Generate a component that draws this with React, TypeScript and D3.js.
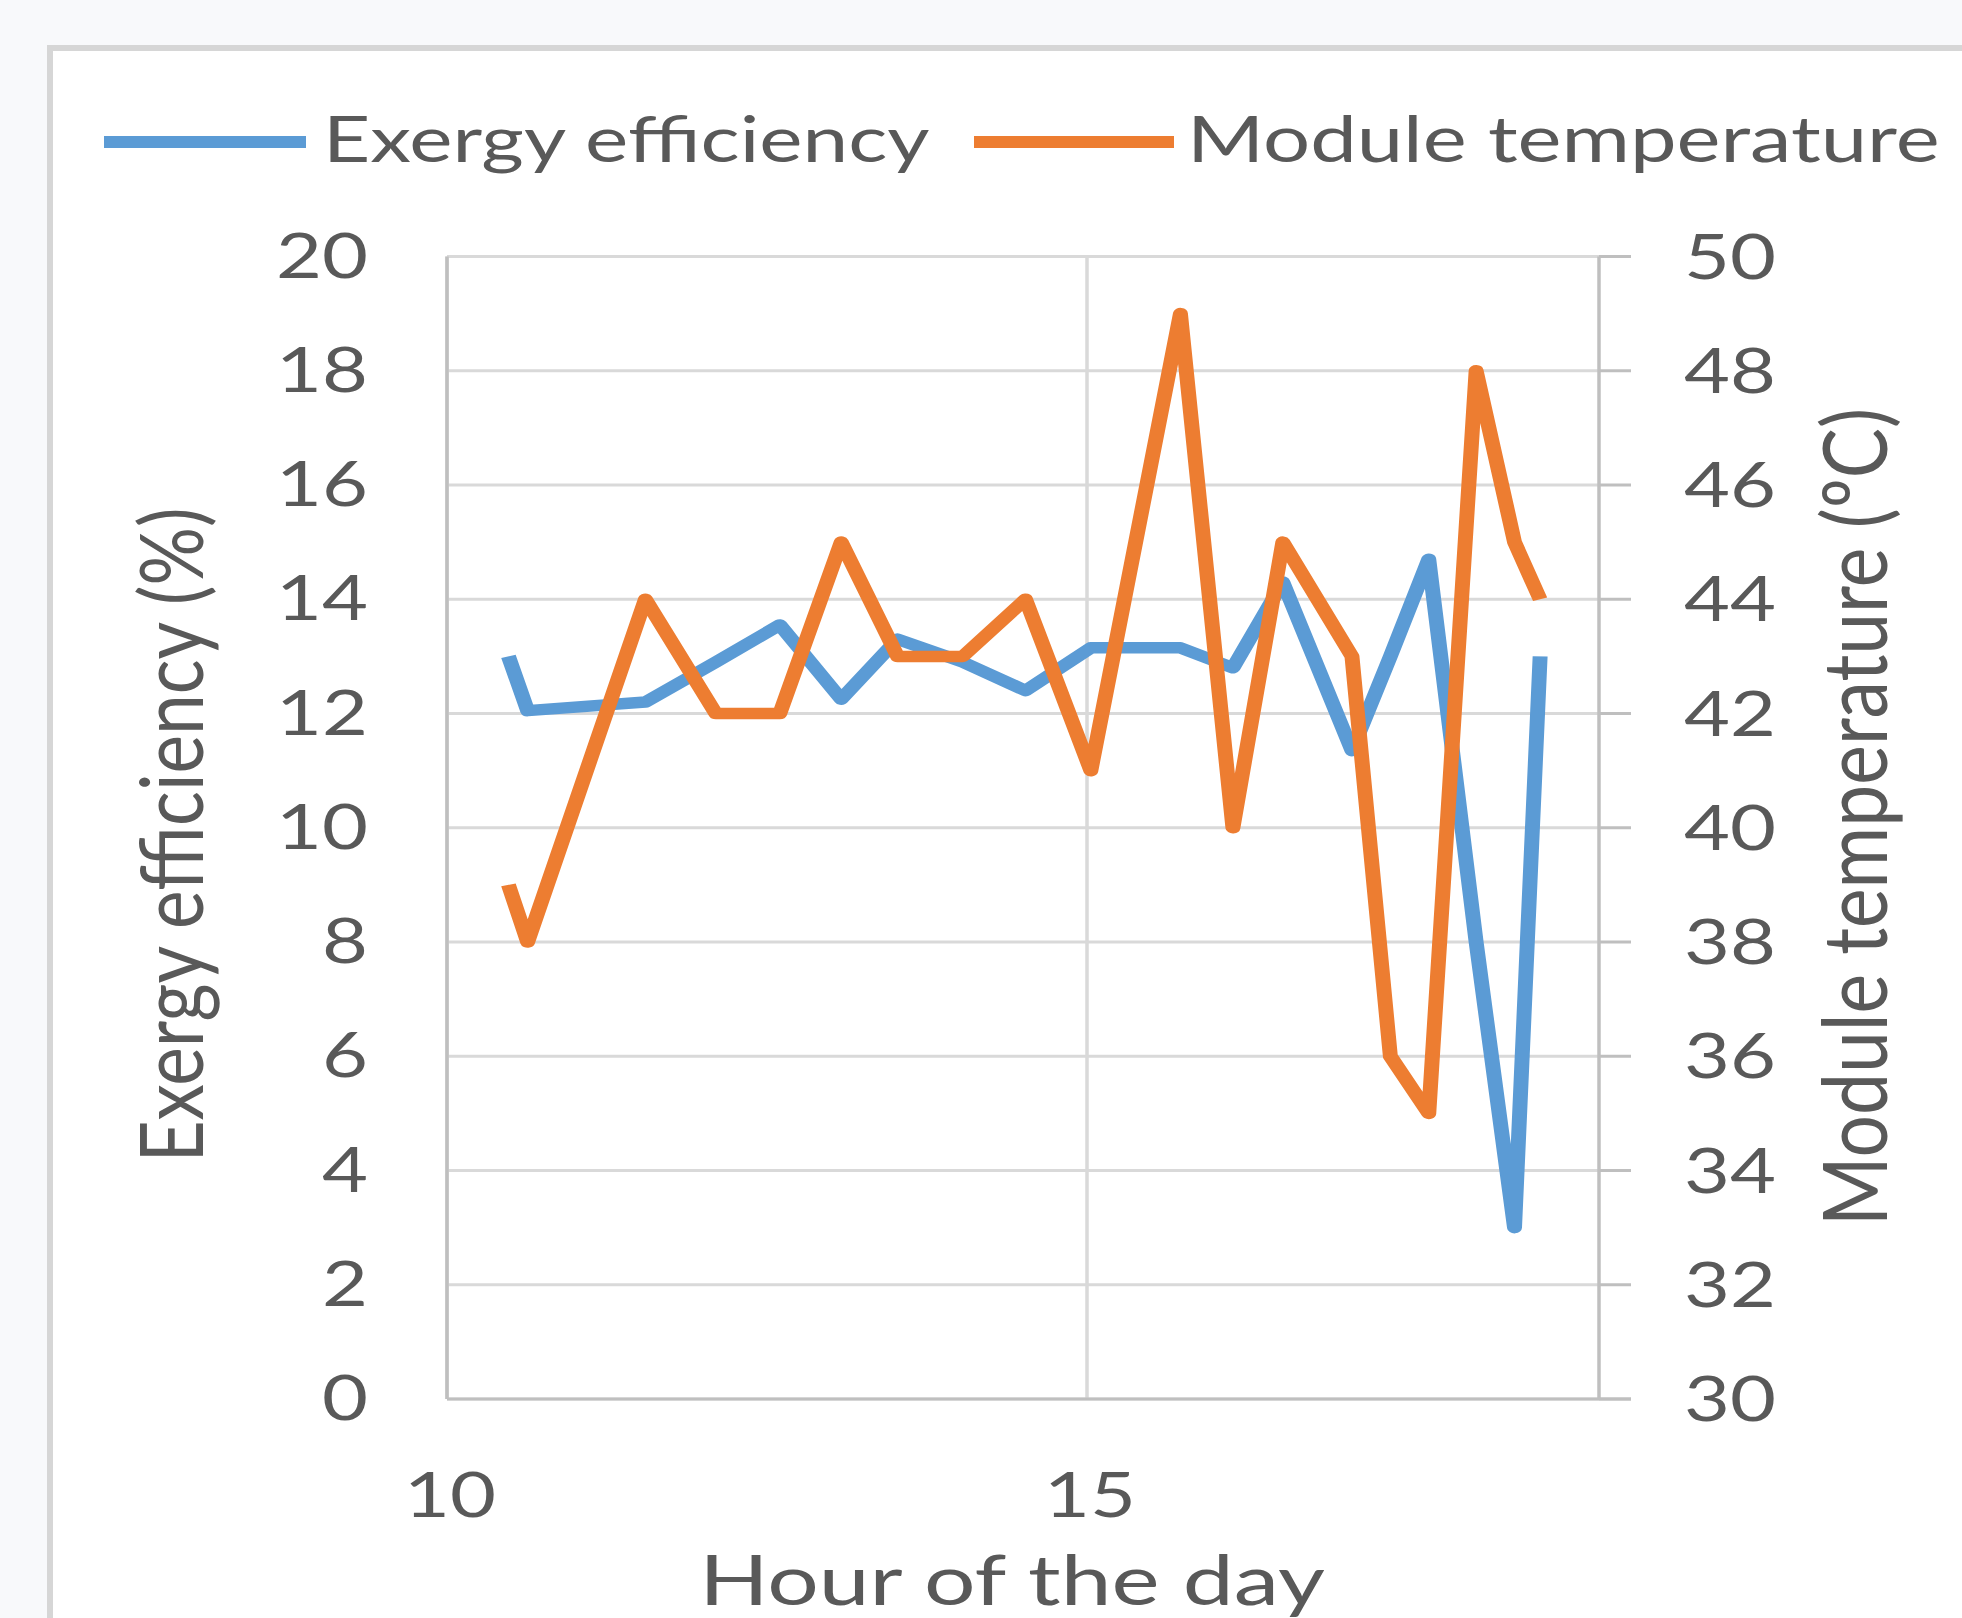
import React from "react";
import * as d3 from "d3";

const hours = [10.48, 10.63, 11.55, 12.1, 12.6, 13.08, 13.52, 14.03, 14.52, 15.03, 15.73, 16.14, 16.53, 17.07, 17.37, 17.67, 18.04, 18.34, 18.54];
const exergyEfficiency = [13.0, 12.05, 12.2, 12.9, 13.55, 12.25, 13.3, 12.9, 12.4, 13.15, 13.15, 12.8, 14.3, 11.35, 13.0, 14.7, 8.0, 3.0, 13.0];
const moduleTemperature = [39, 38, 44, 42, 42, 45, 43, 43, 44, 41, 49, 40, 45, 43, 36, 35, 48, 45, 44];

const xTicks = [10, 15];
const leftTicks = [0, 2, 4, 6, 8, 10, 12, 14, 16, 18, 20];
const rightTicks = [30, 32, 34, 36, 38, 40, 42, 44, 46, 48, 50];

const seriesNames = ["Exergy efficiency", "Module temperature"];
const seriesColors = ["#5B9BD5", "#ED7D31"];
const xTitle = "Hour of the day";
const leftTitle = "Exergy efficiency (%)";
const rightTitle = "Module temperature (ºC)";

const W = 1962;
const H = 1618;
const SX = 1.3;
const SXR = 1.2;
const FONT = "Lato, 'Open Sans', sans-serif";
const TEXT = "#595959";
const GRID = "#D9D9D9";
const AXIS = "#BFBFBF";

const plot = { left: 447, right: 1599, top: 256.5, bottom: 1399 };

export default function App() {
  const x = d3.scaleLinear().domain([10, 19]).range([plot.left, plot.right]);
  // same x scale expressed in the horizontally stretched drawing space of the series
  const xs = d3.scaleLinear().domain([10, 19]).range([plot.left / SX, plot.right / SX]);
  const yL = d3.scaleLinear().domain([0, 20]).range([plot.bottom, plot.top]);
  const yR = d3.scaleLinear().domain([30, 50]).range([plot.bottom, plot.top]);

  const lineL = d3
    .line<number>()
    .x((_, i) => xs(hours[i]))
    .y((d) => yL(d));
  const lineR = d3
    .line<number>()
    .x((_, i) => xs(hours[i]))
    .y((d) => yR(d));

  const tx = (px: number, py: number, extra = "", s = SX) =>
    `translate(${px},${py}) scale(${s},1)${extra}`;

  return (
    <div style={{ position: "absolute", left: 0, top: 0 }}>
      <svg width={W} height={H} style={{ display: "block" }} fontFamily={FONT}>
        <rect x={0} y={0} width={W} height={H} fill="#F8F9FB" />
        <rect x={50} y={48} width={W + 100} height={H + 100} fill="#FFFFFF" stroke="#D6D6D6" strokeWidth={6} />

        {/* gridlines */}
        {leftTicks.map((t) => (
          <line key={"g" + t} x1={plot.left} x2={plot.right} y1={yL(t)} y2={yL(t)} stroke={GRID} strokeWidth={3} />
        ))}
        {xTicks.map((t) => (
          <line key={"v" + t} x1={x(t)} x2={x(t)} y1={plot.top} y2={plot.bottom} stroke={GRID} strokeWidth={3.5} />
        ))}

        {/* axes */}
        <line x1={plot.left} x2={plot.left} y1={plot.top} y2={plot.bottom} stroke={AXIS} strokeWidth={3.5} />
        <line x1={plot.right} x2={plot.right} y1={plot.top} y2={plot.bottom} stroke={AXIS} strokeWidth={3.5} />
        <line x1={plot.left} x2={plot.right + 32} y1={plot.bottom} y2={plot.bottom} stroke={AXIS} strokeWidth={3} />
        {rightTicks.map((t) => (
          <line key={"rt" + t} x1={plot.right} x2={plot.right + 32} y1={yR(t)} y2={yR(t)} stroke={AXIS} strokeWidth={3} />
        ))}

        {/* tick labels */}
        {leftTicks.map((t) => (
          <text key={"lt" + t} transform={tx(368, yL(t) + 21)} textAnchor="end" fontSize={61} fill={TEXT}>
            {t}
          </text>
        ))}
        {rightTicks.map((t) => (
          <text key={"rl" + t} transform={tx(1684, yR(t) + 22)} textAnchor="start" fontSize={61} fill={TEXT}>
            {t}
          </text>
        ))}
        {xTicks.map((t) => (
          <text key={"xt" + t} transform={tx(x(t) + 3, 1517)} textAnchor="middle" fontSize={61} fill={TEXT}>
            {t}
          </text>
        ))}

        {/* axis titles */}
        <text transform={tx(1012, 1605)} textAnchor="middle" fontSize={70} fill={TEXT}>
          {xTitle}
        </text>
        <text transform={tx(203, 835, " rotate(-90)", SXR)} textAnchor="middle" fontSize={73} fill={TEXT}>
          {leftTitle}
        </text>
        <text transform={tx(1887, 817, " rotate(-90)", SXR)} textAnchor="middle" fontSize={75} fill={TEXT}>
          {rightTitle}
        </text>

        {/* series, drawn in horizontally stretched space like the reference */}
        <g transform={`scale(${SX},1)`}>
          <path d={lineL(exergyEfficiency) || ""} fill="none" stroke={seriesColors[0]} strokeWidth={11.5} strokeLinejoin="round" />
          <path d={lineR(moduleTemperature) || ""} fill="none" stroke={seriesColors[1]} strokeWidth={11.5} strokeLinejoin="round" />
        </g>

        {/* legend */}
        <line x1={104} x2={306} y1={142} y2={142} stroke={seriesColors[0]} strokeWidth={12} />
        <text transform={tx(323, 162)} fontSize={63} fill={TEXT}>
          {seriesNames[0]}
        </text>
        <line x1={974} x2={1174} y1={142} y2={142} stroke={seriesColors[1]} strokeWidth={12} />
        <text transform={tx(1187, 162)} fontSize={64} fill={TEXT}>
          {seriesNames[1]}
        </text>
      </svg>
    </div>
  );
}
